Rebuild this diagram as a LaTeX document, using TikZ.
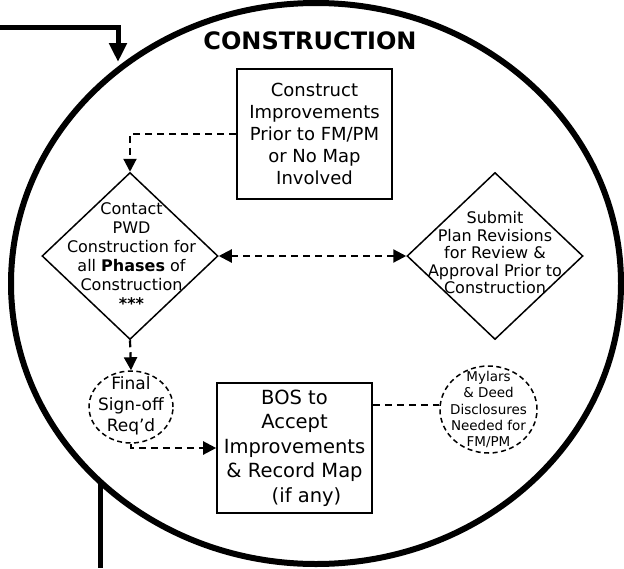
\documentclass[tikz,border=0pt]{standalone}
\usepackage{fontspec}
\setmainfont{DejaVu Sans}
\usetikzlibrary{shapes.geometric,arrows.meta,calc}
\begin{document}
\begin{tikzpicture}[x=1pt,y=-1pt,
  outerline/.style={line width=5pt},
  bigcircle/.style={draw,ellipse,line width=6pt,minimum width=610pt,minimum height=561pt,inner sep=0pt},
  boxnode/.style={draw,line width=1.6pt,minimum width=155pt,minimum height=130pt,inner sep=0pt,align=center},
  dianode/.style={draw,diamond,line width=1.5pt,minimum width=176pt,minimum height=167pt,inner sep=0pt},
  dashell/.style={draw,ellipse,line width=1.5pt,dash pattern=on 5pt off 3.5pt,inner sep=0pt},
  ctext/.style={align=center,inner sep=0pt},
  dashconn/.style={line width=2.2pt,dash pattern=on 7pt off 5pt},
  tipa/.tip={Triangle[length=13pt,width=13pt]},
  tipb/.tip={Triangle[length=19pt,width=17pt]}
]
\useasboundingbox (0,0) rectangle (624,568);

% big circle
\node[bigcircle] (c) at (316,283.5) {};
\node[font=\fontsize{24}{27}\selectfont\bfseries,inner sep=0pt] (title) at (310,41) {CONSTRUCTION};

% outer connectors
\coordinate (tl0) at (0,27);
\coordinate (tl1) at (118,27);
\coordinate (tl2) at (118,62);
\draw[outerline,-tipb] (tl0) -- (tl1) -- (tl2);
\coordinate (bl1) at (100,484);
\coordinate (bl2) at (100,568);
\draw[outerline] (bl1) -- (bl2);

% boxes
\node[boxnode,font=\fontsize{18}{22}\selectfont] (b1) at (314.5,134)
  {Construct\\Improvements\\Prior to FM/PM\\or No Map\\Involved};
\node[boxnode,font=\fontsize{19.5}{24.5}\selectfont] (b2) at (294.5,448)
  {BOS to\\Accept\\Improvements\\\& Record Map\\\hspace*{24pt}(if any)};

% diamonds
\node[dianode] (d1) at (130,256) {};
\node[ctext,font=\fontsize{16}{19}\selectfont] (d1t) at (131.5,256)
  {Contact\\PWD\\Construction for\\all \textbf{Phases} of\\Construction\\\textbf{***}};
\node[dianode] (d2) at (495,256) {};
\node[ctext,font=\fontsize{16}{17.5}\selectfont] (d2t) at (495,253)
  {Submit\\Plan Revisions\\for Review \&\\Approval Prior to\\Construction};

% dashed ellipses
\node[dashell,minimum width=84pt,minimum height=72pt] (e1) at (131,407) {};
\node[ctext,font=\fontsize{17}{21}\selectfont] (e1t) at (131,406)
  {Final\\Sign-off\\Req’d};
\node[dashell,minimum width=97pt,minimum height=87pt] (m) at (488.5,409.5) {};
\node[ctext,font=\fontsize{13.5}{16.3}\selectfont] (mt) at (488.5,409.5)
  {Mylars\\\& Deed\\Disclosures\\Needed for\\FM/PM};

% dashed connectors
\draw[dashconn,-tipa] (b1.west) -| (d1.north);
\draw[dashconn,tipa-tipa] (d1.east) -- (d2.west);
\draw[dashconn,-tipa] (d1.south) -- (e1.north);
\draw[dashconn,-tipa] (e1.south) |- (b2.west);
\draw[dashconn] (b2.east |- 0,405) -- (m.west |- 0,405);
\end{tikzpicture}
\end{document}
